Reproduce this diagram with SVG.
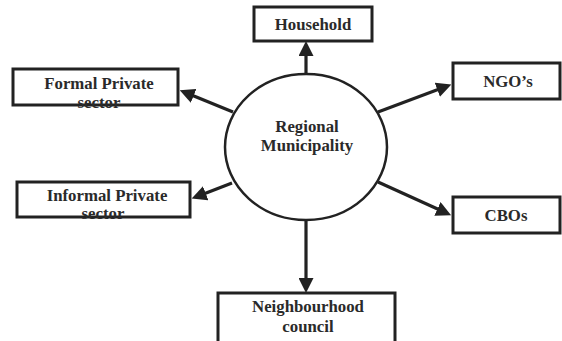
<svg xmlns="http://www.w3.org/2000/svg" width="562" height="341" viewBox="0 0 562 341">
<style>
.box{fill:#fff;stroke:#222;stroke-width:3}
.lbl{font-family:"Liberation Serif","Times New Roman",serif;font-weight:bold;font-size:16.8px;fill:#2a2a2a;text-anchor:middle}
.con{stroke:#222;stroke-width:3.2;fill:none;marker-end:url(#ah)}
</style>
<defs>
<marker id="ah" markerUnits="userSpaceOnUse" markerWidth="15" markerHeight="15" refX="5" refY="7.5" orient="auto">
<path d="M0,0 L15,7.5 L0,15 z" fill="#222"/>
</marker>
</defs>
<rect width="562" height="341" fill="#fff"/>
<g id="connectors">
<line class="con" x1="306" y1="74" x2="306" y2="51"/>
<line class="con" x1="233" y1="112" x2="189" y2="94"/>
<line class="con" x1="378" y1="112" x2="442" y2="88"/>
<line class="con" x1="232" y1="183" x2="201" y2="195"/>
<line class="con" x1="378" y1="182" x2="442" y2="211"/>
<line class="con" x1="306" y1="220" x2="306" y2="283"/>
</g>
<g id="regional">
<ellipse cx="306" cy="147" rx="81" ry="73" fill="#fff" stroke="#222" stroke-width="2.5"/>
<text class="lbl" x="307" y="132">Regional</text>
<text class="lbl" x="307" y="151">Municipality</text>
</g>
<g id="household">
<rect class="box" x="254" y="7" width="118" height="34"/>
<text class="lbl" x="313" y="30">Household</text>
</g>
<g id="formal">
<rect class="box" x="13" y="69" width="165" height="36"/>
<text class="lbl" x="99" y="89">Formal Private</text>
<text class="lbl" x="99" y="108">sector</text>
</g>
<g id="ngo">
<rect class="box" x="453" y="63" width="107" height="36"/>
<text class="lbl" x="508" y="87">NGO’s</text>
</g>
<g id="informal">
<rect class="box" x="17" y="182" width="173" height="35"/>
<text class="lbl" x="107" y="201">Informal Private</text>
<text class="lbl" x="103" y="219">sector</text>
</g>
<g id="cbos">
<rect class="box" x="453" y="197" width="107" height="36"/>
<text class="lbl" x="506" y="221">CBOs</text>
</g>
<g id="neighbourhood">
<rect class="box" x="218" y="293" width="177" height="52"/>
<text class="lbl" x="308" y="312">Neighbourhood</text>
<text class="lbl" x="308" y="332">council</text>
</g>
</svg>
